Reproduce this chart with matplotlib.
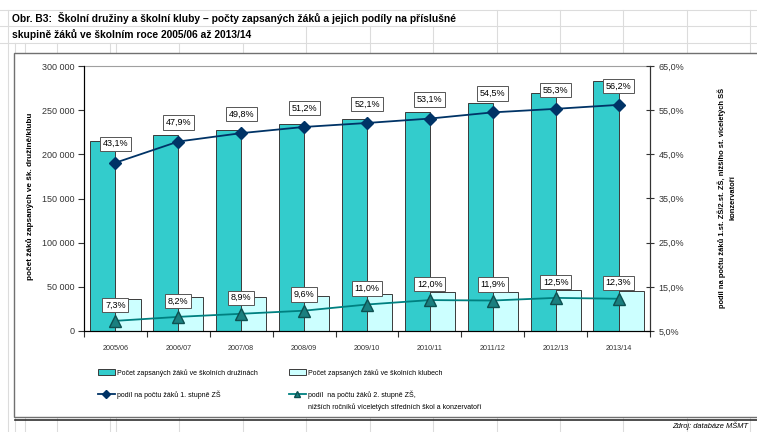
import numpy as np
import matplotlib
matplotlib.use("Agg")
import matplotlib.pyplot as plt
from matplotlib import font_manager
from matplotlib.patches import Rectangle, Patch
from matplotlib.lines import Line2D
from matplotlib.ticker import FuncFormatter, FixedLocator

plt.rcParams['font.family'] = ['Liberation Sans', 'DejaVu Sans']
# the reference uses a condensed Arial for legend / x labels
_names = {f.name for f in font_manager.fontManager.ttflist}
if 'Liberation Sans Narrow' in _names:
    NARROW = ['Liberation Sans Narrow']
    leg_size, xt_size = 5.6, 5.8
else:
    NARROW = ['Liberation Sans']
    leg_size, xt_size = 5.0, 5.2

# data
roky = ['2005/06', '2006/07', '2007/08', '2008/09', '2009/10',
        '2010/11', '2011/12', '2012/13', '2013/14']
druziny = [215400, 221900, 227900, 234700, 239600, 247500, 257700, 269100, 283400]
kluby = [36700, 38100, 38100, 39300, 41800, 44000, 43600, 46100, 45300]
podil_1st = [43.1, 47.9, 49.8, 51.2, 52.1, 53.1, 54.5, 55.3, 56.2]
podil_2st = [7.3, 8.2, 8.9, 9.6, 11.0, 12.0, 11.9, 12.5, 12.3]

W, H = 757, 432
fig = plt.figure(figsize=(W / 100, H / 100), dpi=100)

# spreadsheet background in pixel coordinates
bg = fig.add_axes([0, 0, 1, 1], zorder=-1)
bg.set_xlim(0, W)
bg.set_ylim(H, 0)
bg.axis('off')
grid_c = '#dcdcdc'
for y in [10, 26, 43]:
    bg.plot([0, W], [y, y], color=grid_c, lw=0.8)
for x in [8, 15, 25, 57, 110, 116, 179, 243, 306, 370, 433, 497, 560, 623, 687, 750]:
    if x < 11 or x > 460:
        y0 = 10
    elif x > 255:
        y0 = 26
    else:
        y0 = 43
    bg.plot([x, x], [y0, H], color=grid_c, lw=0.8)
# chart area box with shadow
bg.add_patch(Rectangle((14, 53), W, 364, facecolor='white', edgecolor='#707070', lw=1.0, zorder=3))
bg.plot([15, W], [419.5, 419.5], color='#303030', lw=1.2, zorder=3)

fig.text(12, H - 18, 'Obr. B3:  Školní družiny a školní kluby – počty zapsaných žáků a jejich podíly na příslušné',
         transform=None, fontsize=7.4, fontweight='bold', va='center', ha='left')
fig.text(12, H - 35, 'skupině žáků ve školním roce 2005/06 až 2013/14',
         transform=None, fontsize=7.4, fontweight='bold', va='center', ha='left')

# main chart
ax = fig.add_axes([84 / W, 1 - 331 / H, (650 - 84) / W, (331 - 66) / H])
x = np.arange(len(roky))
ax.bar(x - 0.2, druziny, 0.4, color='#33CCCC', edgecolor='#3a3a3a', lw=0.7, zorder=2)
ax.bar(x + 0.2, kluby, 0.4, color='#CCFFFF', edgecolor='#3a3a3a', lw=0.7, zorder=2)
ax.set_xlim(-0.5, len(roky) - 0.5)
ax.set_ylim(0, 300000)
ax.set_yticks(np.arange(0, 300001, 50000))
ax.yaxis.set_major_formatter(FuncFormatter(lambda v, p: f'{int(v):,}'.replace(',', ' ')))
ax.set_xticks(x)
ax.set_xticklabels(roky, family=NARROW, fontsize=xt_size)
ax.xaxis.set_minor_locator(FixedLocator(np.arange(-0.5, len(roky), 1.0)))
ax.tick_params(axis='x', which='major', length=0, pad=10, labelcolor='#333333')
ax.tick_params(axis='x', which='minor', length=4, width=0.8, color='#333333')
ax.tick_params(axis='y', length=4, width=0.8, pad=3, labelsize=6.5, labelcolor='#333333', color='#333333')
ax.spines['top'].set_color('#a0a0a0')
for s in ['left', 'bottom', 'right']:
    ax.spines[s].set_color('#333333')

fig.text(30, H - 196, 'počet žáků zapsaných ve šk. družině/klubu', transform=None, rotation=90,
         fontsize=5.9, fontweight='bold', ha='center', va='center')

ax2 = ax.twinx()
ax2.patch.set_visible(False)
ax2.set_ylim(5, 65)
ax2.set_yticks(np.arange(5, 66, 10))
ax2.yaxis.set_major_formatter(FuncFormatter(lambda v, p: f'{v:.1f}%'.replace('.', ',')))
ax2.tick_params(axis='y', direction='inout', length=6, width=0.8, pad=3, labelsize=6.5,
                labelcolor='#333333', color='#333333')
ax2.spines['right'].set_color('#333333')
ax2.spines['top'].set_visible(False)
ax2.plot(x, podil_1st, color='#003366', lw=1.3, marker='D', ms=6, zorder=4)
ax2.plot(x, podil_2st, color='#008080', lw=1.3, marker='^', ms=8, mfc='#1a7f7f', mec='#0d5050', zorder=4)

box = dict(boxstyle='square,pad=0.3', fc='white', ec='#555555', lw=0.7)
for i in x:
    ax2.annotate(f'{podil_1st[i]:.1f}%'.replace('.', ','), (i, podil_1st[i]), xytext=(0, 19),
                 textcoords='offset pixels', ha='center', va='center', fontsize=6.5, bbox=box, zorder=6)
    ax2.annotate(f'{podil_2st[i]:.1f}%'.replace('.', ','), (i, podil_2st[i]), xytext=(0, 16),
                 textcoords='offset pixels', ha='center', va='center', fontsize=6.5, bbox=box, zorder=6)

fig.text(727, H - 198, 'podíl na počtu žáků 1.st. ZŠ/2.st. ZŠ, nižšího st. víceletých SŠ\nkonzervatoří',
         transform=None, rotation=90, fontsize=5.4, fontweight='bold', ha='center', va='center',
         multialignment='center', linespacing=1.6)

# legend
h1 = [Patch(fc='#33CCCC', ec='#3a3a3a', lw=0.7),
      Line2D([], [], color='#003366', lw=1.3, marker='D', ms=4)]
h2 = [Patch(fc='#CCFFFF', ec='#3a3a3a', lw=0.7),
      Line2D([], [], color='#008080', lw=1.3, marker='^', ms=5, mfc='#1a7f7f', mec='#0d5050')]
leg_kw = dict(loc='upper left', frameon=False, prop={'family': NARROW, 'size': leg_size},
              handlelength=12.2 / leg_size, handleheight=5.0 / leg_size,
              handletextpad=1.5 / leg_size, borderpad=0, borderaxespad=0,
              labelspacing=9.6 / leg_size)
fig.legend(h1, ['Počet zapsaných žáků ve školních družinách', 'podíl na počtu žáků 1. stupně ZŠ'],
           bbox_to_anchor=(98 / W, 1 - 369 / H), **leg_kw)
fig.legend(h2, ['Počet zapsaných žáků ve školních klubech', 'podíl  na počtu žáků 2. stupně ZŠ,'],
           bbox_to_anchor=(289 / W, 1 - 369 / H), **leg_kw)
fig.text(308, H - 407, 'nižších ročníků víceletých středních škol a konzervatoří', transform=None,
         family=NARROW, fontsize=leg_size, va='center', ha='left')

fig.text(672, H - 426, 'Zdroj: databáze MŠMT', transform=None, family=NARROW, fontsize=5.4,
         style='italic', va='center', ha='left')

fig.savefig('out.png', dpi=100)
